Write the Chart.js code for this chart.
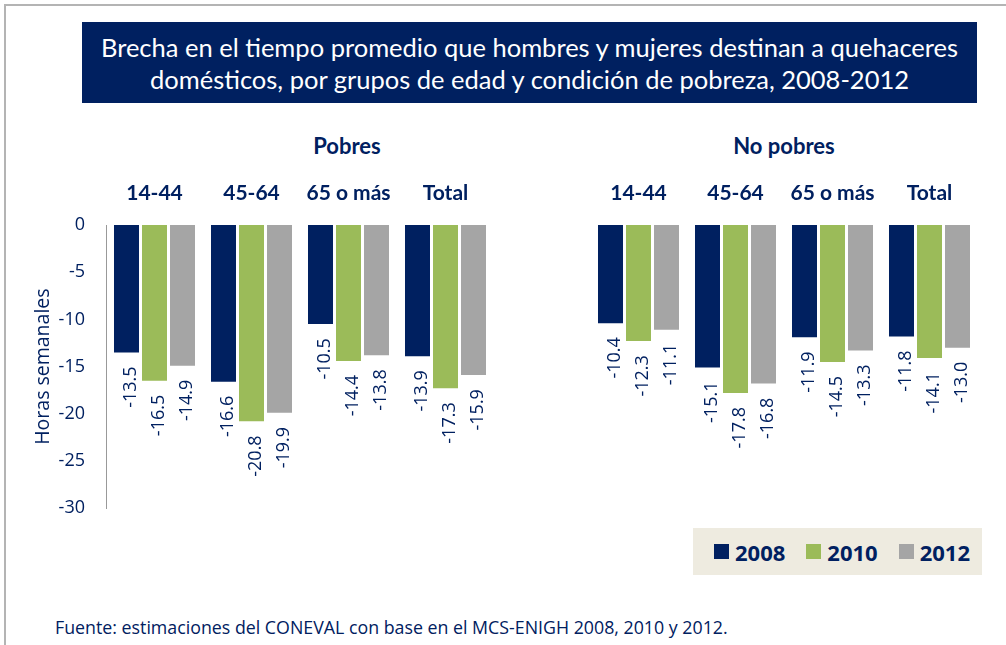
<!DOCTYPE html>
<html lang="es">
<head>
<meta charset="UTF-8">
<title>Brecha en quehaceres domésticos</title>
<script src="https://cdn.jsdelivr.net/npm/chart.js"></script>
<style>
    body {
        margin: 0;
        width: 1006px;
        height: 645px;
        background: #fff;
        position: relative;
        overflow: hidden;
        font-family: 'Open Sans', sans-serif;
        color: #002060;
    }
    #frame {
        position: absolute;
        left: 4px;
        top: 4px;
        width: 1010px;
        height: 650px;
        border-top: 2px solid #b4b4b4;
        border-left: 2px solid #b4b4b4;
    }
    #title {
        position: absolute;
        left: 82px;
        top: 22px;
        width: 895px;
        height: 81px;
        background: #002060;
        color: #fff;
        font-family: Lato, sans-serif;
        font-size: 25.5px;
        line-height: 32px;
        text-align: center;
        display: flex;
        align-items: center;
        justify-content: center;
    }
    .panel {
        position: absolute;
        top: 132px;
        font-family: Lato, sans-serif;
        font-weight: bold;
        font-size: 22px;
        text-align: center;
        width: 200px;
    }
    canvas { position: absolute; top: 160px; }
    #legend {
        position: absolute;
        left: 693px;
        top: 528px;
        width: 289px;
        height: 47px;
        background: #eeebe0;
        display: flex;
        align-items: center;
        padding-left: 21px;
        box-sizing: border-box;
    }
    .item { display: flex; align-items: center; margin-right: 21px; }
    .swatch { width: 15px; height: 15px; margin-right: 6px; }
    .item span { font-family: 'Open Sans', sans-serif; font-weight: bold; font-size: 22px; }
    #source {
        position: absolute;
        left: 55px;
        top: 615px;
        font-size: 17.8px;
    }
</style>
</head>
<body>
<div id="frame"></div>
<div id="title">Brecha en el tiempo promedio que hombres y mujeres destinan a quehaceres<br>domésticos, por grupos de edad y condición de pobreza, 2008-2012</div>
<div class="panel" style="left:247px">Pobres</div>
<div class="panel" style="left:684px">No pobres</div>
<canvas id="pobres" width="500" height="380" style="left:0"></canvas>
<canvas id="noPobres" width="500" height="380" style="left:500px"></canvas>
<div id="legend"></div>
<div id="source">Fuente: estimaciones del CONEVAL con base en el MCS-ENIGH 2008, 2010 y 2012.</div>

<script>
    // data
    const categories = ['14-44', '45-64', '65 o más', 'Total'];
    const years = ['2008', '2010', '2012'];
    const colors = ['#002060', '#9bbb59', '#a5a5a5'];

    const pobres2008 = [-13.5, -16.6, -10.5, -13.9];
    const pobres2010 = [-16.5, -20.8, -14.4, -17.3];
    const pobres2012 = [-14.9, -19.9, -13.8, -15.9];

    const noPobres2008 = [-10.4, -15.1, -11.9, -11.8];
    const noPobres2010 = [-12.3, -17.8, -14.5, -14.1];
    const noPobres2012 = [-11.1, -16.8, -13.3, -13.0];

    const yMin = -30, yMax = 0, yStep = 5;
    const navy = '#002060';

    // rotated value labels under each bar
    const valueLabels = {
        id: 'valueLabels',
        afterDatasetsDraw(chart) {
            const ctx = chart.ctx;
            ctx.save();
            ctx.fillStyle = navy;
            ctx.font = '18px "Open Sans"';
            chart.data.datasets.forEach((ds, i) => {
                chart.getDatasetMeta(i).data.forEach((bar, j) => {
                    ctx.save();
                    ctx.translate(bar.x + 4, bar.y + 14);
                    ctx.rotate(-Math.PI / 2);
                    ctx.textAlign = 'right';
                    ctx.textBaseline = 'middle';
                    ctx.fillText(ds.data[j].toFixed(1), 0, 0);
                    ctx.restore();
                });
            });
            ctx.restore();
        }
    };

    function makeChart(id, series, showAxis, padding) {
        return new Chart(document.getElementById(id), {
            type: 'bar',
            data: {
                labels: categories,
                datasets: series.map((s, i) => ({
                    label: years[i],
                    data: s,
                    backgroundColor: colors[i],
                    categoryPercentage: 0.866,
                    barPercentage: 0.893
                }))
            },
            options: {
                responsive: false,
                animation: false,
                layout: { padding: padding },
                plugins: { legend: { display: false }, tooltip: { enabled: false } },
                scales: {
                    x: {
                        position: 'top',
                        grid: { display: false, drawTicks: false },
                        border: { display: false },
                        ticks: {
                            color: navy,
                            padding: 19,
                            maxRotation: 0,
                            autoSkip: false,
                            font: { family: 'Lato', weight: 'bold', size: 21 }
                        },
                        afterFit: (scale) => { scale.height = 58; }
                    },
                    y: {
                        min: yMin,
                        max: yMax,
                        grid: { display: false, drawTicks: false },
                        border: { display: showAxis, color: '#999999', width: 1 },
                        ticks: {
                            stepSize: yStep,
                            color: showAxis ? navy : 'rgba(0,0,0,0)',
                            padding: 21,
                            font: { family: 'Open Sans', size: 18 }
                        },
                        title: {
                            display: showAxis,
                            text: 'Horas semanales',
                            color: navy,
                            padding: { top: 32, bottom: 0 },
                            font: { family: 'Open Sans', size: 19.5 }
                        },
                        afterFit: (scale) => { scale.width = showAxis ? 106 : 0; }
                    }
                }
            },
            plugins: [valueLabels]
        });
    }

    makeChart('pobres', [pobres2008, pobres2010, pobres2012], true,
        { top: 7, left: 0, right: 6, bottom: 5 });
    makeChart('noPobres', [noPobres2008, noPobres2010, noPobres2012], false,
        { top: 7, left: 90, right: 22, bottom: 5 });

    // legend
    const legend = document.getElementById('legend');
    years.forEach((y, i) => {
        const item = document.createElement('div');
        item.className = 'item';
        item.innerHTML = '<div class="swatch" style="background:' + colors[i] + '"></div><span>' + y + '</span>';
        legend.appendChild(item);
    });
</script>
</body>
</html>
